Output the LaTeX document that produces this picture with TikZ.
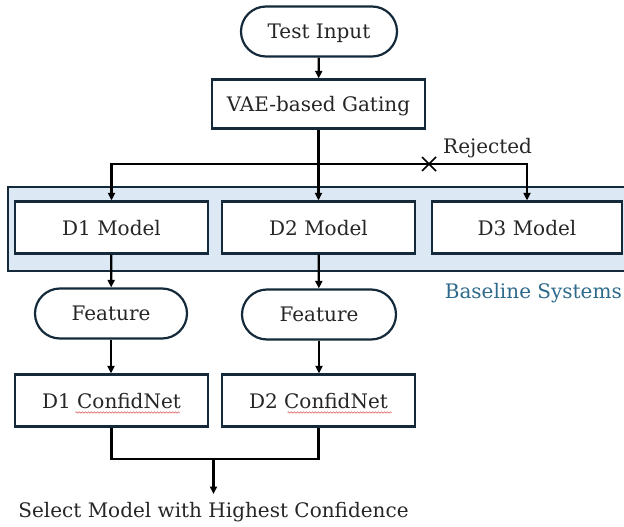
\documentclass[tikz,border=0pt]{standalone}
\usepackage{fontspec}
\setmainfont{DejaVu Serif}
\usetikzlibrary{arrows.meta,decorations.pathmorphing,calc}
\definecolor{edge}{HTML}{142A3A}
\definecolor{band}{HTML}{DCE8F4}
\definecolor{bandtext}{HTML}{2E6A8C}
\definecolor{squiggle}{HTML}{E06060}
\begin{document}
\begin{tikzpicture}[x=1pt,y=-1pt,
  lbl/.style={font=\fontsize{20}{24}\selectfont,text=black!85},
  box/.style={lbl,draw=edge,line width=2.2pt,fill=white,minimum width=193pt,minimum height=52pt,inner sep=0pt,yshift=-1.5pt,text depth=0pt},
  term/.style={box,rounded corners=25pt,minimum width=156pt,minimum height=50pt},
  flow/.style={line width=2.2pt,-{Triangle[width=7pt,length=7.5pt]}},
  plain/.style={line width=2.2pt},
  spell/.style={draw=squiggle,line width=0.6pt,decorate,decoration={snake,amplitude=0.7pt,segment length=3pt}}]
\useasboundingbox (0,0) rectangle (624,527);

% baseline systems band
\fill[band] (8,187) rectangle (624,271);
\draw[edge,line width=2.2pt] (624,187) -- (8,187) -- (8,271) -- (624,271);

% nodes
\node[term] (in) at (319,30) {Test Input};
\node[box,minimum width=213pt,minimum height=49pt] (gate) at (318.5,102.5) {VAE-based Gating};
\node[box] (m1) at (111.5,226) {D1 Model};
\node[box] (m2) at (318.5,226) {D2 Model};
\node[box,minimum width=190pt] (m3) at (527,226) {D3 Model};
\node[term,minimum width=152pt] (f1) at (111,312) {Feature};
\node[term,minimum width=154pt] (f2) at (319,313) {Feature};
\node[box] (c1) at (111.5,399) {D1 ConfidNet};
\node[box] (c2) at (318.5,399) {D2 ConfidNet};
\node[lbl,inner sep=0pt,anchor=north] (out) at (213.5,502) {Select Model with Highest Confidence};
\node[lbl,text=bandtext,anchor=east,inner sep=0pt] (base) at (622,293) {Baseline Systems};
\node[lbl,anchor=west,inner sep=0pt] (rej) at (443,148) {Rejected};

% spell-check underlines
\draw[spell] ($(c1.center)+(-36,12)$) -- ($(c1.center)+(68,12)$);
\draw[spell] ($(c2.center)+(-31,12)$) -- ($(c2.center)+(73,12)$);

% connectors
\coordinate (hub) at (318.5,164);
\coordinate (cut) at (429,164);
\coordinate (join) at (213.5,459);
\draw[flow] (in) -- (gate);
\draw[flow] (gate) -- (m2);
\draw[flow] (hub) -| (m1);
\draw[flow] (hub) -| (m3);
\draw[line width=1.6pt] ($(cut)+(-7,-7)$) -- ($(cut)+(7,7)$)
                        ($(cut)+(-7,7)$) -- ($(cut)+(7,-7)$);
\draw[flow] (m1) -- (f1);
\draw[flow] (m2) -- (f2);
\draw[flow] (f1) -- (c1.north -| f1);
\draw[flow] (f2) -- (c2.north -| f2);
\draw[plain] (c1.south) |- (join) -| (c2.south);
\draw[flow] (join) -- ($(out.north)+(0,-8)$);
\end{tikzpicture}
\end{document}
